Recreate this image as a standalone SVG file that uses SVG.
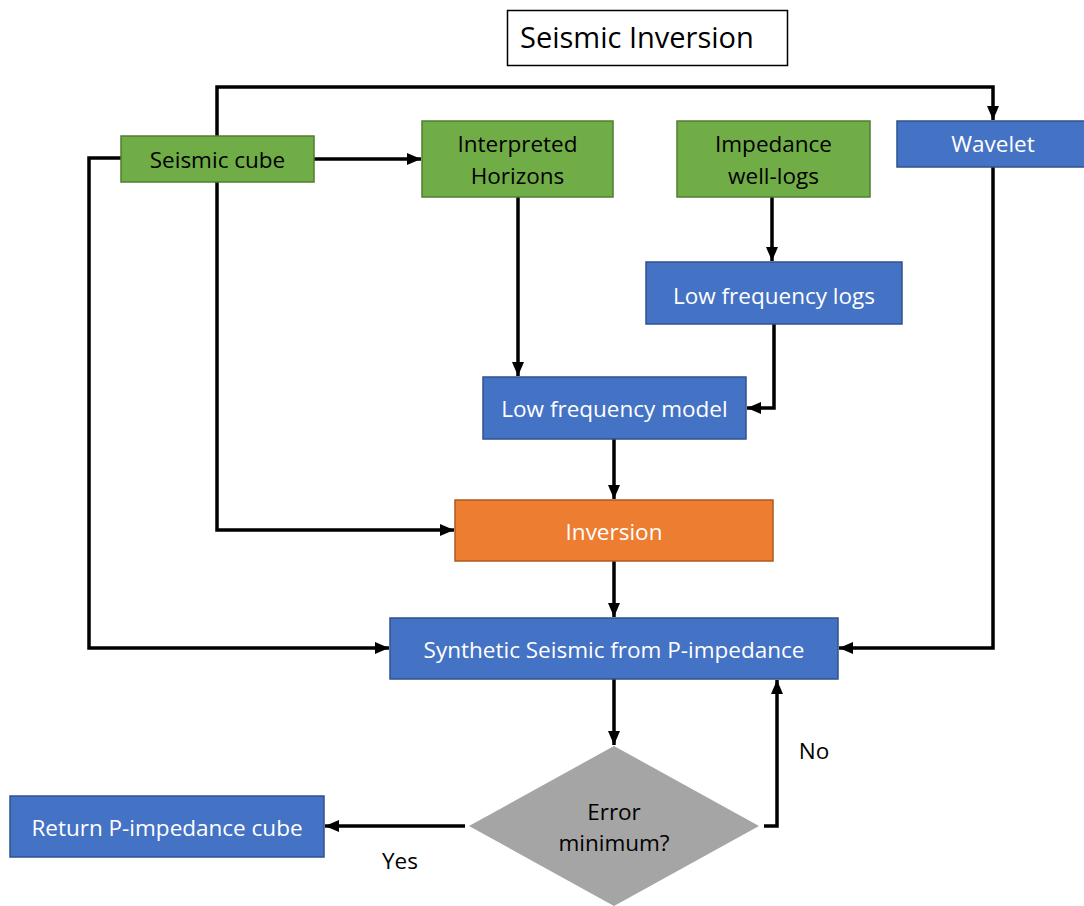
<svg xmlns="http://www.w3.org/2000/svg" width="1084" height="906" viewBox="0 0 1084 906">
<style>
.g{fill:#70AD47;stroke:#507E32;stroke-width:1.5}
.b{fill:#4472C4;stroke:#2F528F;stroke-width:1.5}
.o{fill:#ED7D31;stroke:#AE5A21;stroke-width:1.5}
.d{fill:#A5A5A5}
text{font-family:"Open Sans","Noto Sans","Liberation Sans",sans-serif;font-size:22.5px;text-anchor:middle}
.w{fill:#FFFFFF}
.k{fill:#000000}
.c{fill:none;stroke:#000;stroke-width:3.5}
</style>
<defs>
<marker id="ah" markerUnits="userSpaceOnUse" markerWidth="15" markerHeight="15" viewBox="0 0 15 15" refX="14" refY="7.5" orient="auto">
<path d="M0,1.5 L14,7.5 L0,13.5 Z" fill="#000"/>
</marker>
</defs>
<rect width="1084" height="906" fill="#fff"/>
<g id="connectors">
<path class="c" d="M217,136 V87 H993 V120" marker-end="url(#ah)"/>
<path class="c" d="M314,159 H421" marker-end="url(#ah)"/>
<path class="c" d="M121,158 H89 V648 H389" marker-end="url(#ah)"/>
<path class="c" d="M217,182 V530 H454" marker-end="url(#ah)"/>
<path class="c" d="M518,197 V376" marker-end="url(#ah)"/>
<path class="c" d="M772,197 V261" marker-end="url(#ah)"/>
<path class="c" d="M774,324 V408 H747" marker-end="url(#ah)"/>
<path class="c" d="M614,439 V499" marker-end="url(#ah)"/>
<path class="c" d="M614,561 V617" marker-end="url(#ah)"/>
<path class="c" d="M993,167 V648 H839" marker-end="url(#ah)"/>
<path class="c" d="M614,679 V745" marker-end="url(#ah)"/>
<path class="c" d="M764,826 H777 V680" marker-end="url(#ah)"/>
<path class="c" d="M465,826 H325" marker-end="url(#ah)"/>
</g>
<g id="title">
<rect x="507.5" y="10.5" width="280" height="55" fill="#fff" stroke="#000" stroke-width="1.5"/>
<text x="520" y="48" class="k" style="font-size:29px;text-anchor:start">Seismic Inversion</text>
</g>
<g id="seismic-cube">
<rect class="g" x="121" y="136" width="193" height="46"/>
<text class="k" x="217.5" y="168">Seismic cube</text>
</g>
<g id="interpreted-horizons">
<rect class="g" x="422" y="121" width="191" height="76"/>
<text class="k" x="517.5" y="152">Interpreted</text>
<text class="k" x="517.5" y="184">Horizons</text>
</g>
<g id="impedance-well-logs">
<rect class="g" x="677" y="121" width="193" height="76"/>
<text class="k" x="773.5" y="152">Impedance</text>
<text class="k" x="773.5" y="184">well-logs</text>
</g>
<g id="wavelet">
<rect class="b" x="897" y="121" width="192" height="46"/>
<text class="w" x="993" y="152">Wavelet</text>
</g>
<g id="low-frequency-logs">
<rect class="b" x="646" y="262" width="256" height="62"/>
<text class="w" x="774" y="304">Low frequency logs</text>
</g>
<g id="low-frequency-model">
<rect class="b" x="483" y="377" width="263" height="62"/>
<text class="w" x="614.5" y="417">Low frequency model</text>
</g>
<g id="inversion">
<rect class="o" x="455" y="500" width="318" height="61"/>
<text class="w" x="614" y="540">Inversion</text>
</g>
<g id="synthetic-seismic">
<rect class="b" x="390" y="618" width="448" height="61"/>
<text class="w" x="614" y="658">Synthetic Seismic from P-impedance</text>
</g>
<g id="error-minimum">
<polygon class="d" points="614,746 759,826 614,906 469,826"/>
<text class="k" x="614" y="820">Error</text>
<text class="k" x="614" y="851">minimum?</text>
</g>
<g id="return-p-impedance-cube">
<rect class="b" x="10" y="796" width="314" height="61"/>
<text class="w" x="167" y="836">Return P-impedance cube</text>
</g>
<g id="labels">
<text class="k" x="400" y="869">Yes</text>
<text class="k" x="814" y="759">No</text>
</g>
</svg>
